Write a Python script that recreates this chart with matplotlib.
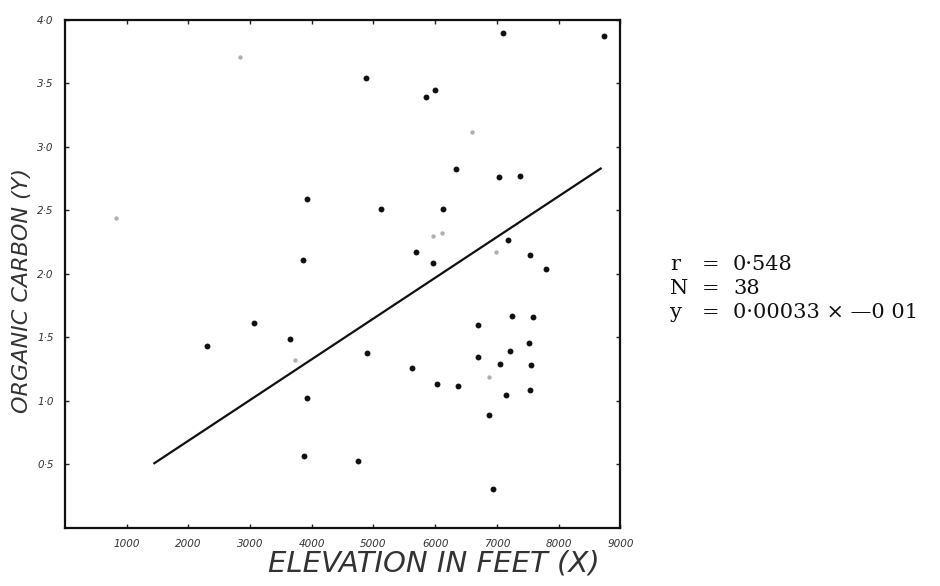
import matplotlib
matplotlib.use("Agg")
import matplotlib.pyplot as plt

# elevation (feet) and organic carbon
elev = [3924, 3860, 7103, 8741, 4881, 6000, 5854, 6341, 7038, 7378,
        5124, 6130, 5692, 5968, 7184, 7541, 7800, 2303, 3065, 3649,
        3924, 3876, 7249, 7590, 6697, 7524, 7216, 6697, 7054, 7557,
        4897, 5627, 6032, 6373, 7151, 7541, 6876, 4751, 6941]
carbon = [2.59, 2.11, 3.90, 3.87, 3.54, 3.45, 3.39, 2.83, 2.76, 2.77,
          2.51, 2.51, 2.17, 2.09, 2.27, 2.15, 2.04, 1.43, 1.61, 1.49,
          1.02, 0.57, 1.67, 1.66, 1.60, 1.46, 1.39, 1.35, 1.29, 1.28,
          1.38, 1.26, 1.13, 1.12, 1.05, 1.09, 0.89, 0.53, 0.31]

# faint marks in the scan
faint_elev = [827, 2838, 6600, 6114, 6989, 6876, 3730, 5968]
faint_carbon = [2.44, 3.71, 3.12, 2.32, 2.17, 1.19, 1.32, 2.30]

# regression line endpoints as drawn
fit_x = [1450, 8680]
fit_y = [0.51, 2.83]

x_ticks = [1000, 2000, 3000, 4000, 5000, 6000, 7000, 8000, 9000]
y_ticks = [0.5, 1.0, 1.5, 2.0, 2.5, 3.0, 3.5, 4.0]
y_tick_labels = ["0·5", "1·0", "1·5", "2·0", "2·5", "3·0", "3·5", "4·0"]

stats_names = ["r", "N", "y"]
stats_values = ["0·548", "38", "0·00033 × —0 01"]

fig = plt.figure(figsize=(9.4, 5.86), dpi=100)
ax = fig.add_axes([0.069, 0.099, 0.591, 0.867])

ax.scatter(faint_elev, faint_carbon, s=10, color="#b0b0b0", lw=0, zorder=2)
ax.scatter(elev, carbon, s=18, color="#111111", lw=0, zorder=3)
ax.plot(fit_x, fit_y, color="#111111", lw=1.6, zorder=3)

ax.set_xlim(0, 9000)
ax.set_ylim(0, 4.0)
ax.set_xticks(x_ticks)
ax.set_xticklabels([str(v) for v in x_ticks], fontsize=7.5, style="italic",
                   color="#333333")
ax.set_yticks(y_ticks)
ax.set_yticklabels(y_tick_labels, fontsize=7.5, style="italic", color="#333333")
ax.tick_params(direction="in", length=3, width=1, top=True, right=True,
               pad=8, color="#222222")
for s in ax.spines.values():
    s.set_linewidth(1.6)
    s.set_color("#111111")

ax.set_xlabel("ELEVATION IN FEET (X)", fontsize=21, style="italic",
              color="#333333", labelpad=0, x=0.665)
ax.set_ylabel("ORGANIC CARBON (Y)", fontsize=16, style="italic",
              color="#333333", labelpad=4, y=0.467)

# r / N / y block, "=" signs aligned
for i, (name, val) in enumerate(zip(stats_names, stats_values)):
    yy = 1 - (265 + i * 24) / 586
    kw = dict(fontsize=15, family="DejaVu Serif", va="center", ha="left",
              color="#111111")
    fig.text(670 / 940, yy, name, **kw)
    fig.text(702 / 940, yy, "=", **kw)
    fig.text(733 / 940, yy, val, **kw)

fig.savefig("out.png", dpi=100)
